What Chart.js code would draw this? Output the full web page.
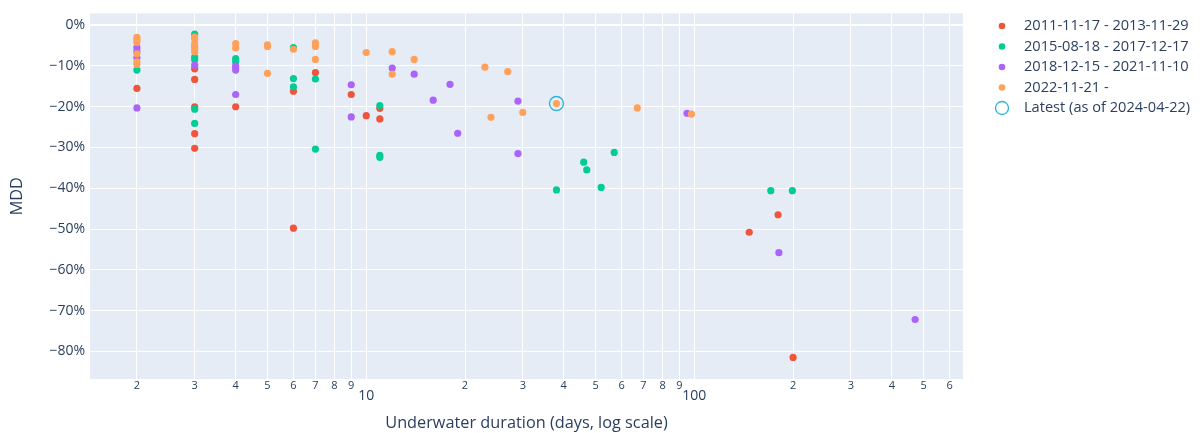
<!DOCTYPE html>
<html>
<head>
<meta charset="utf-8">
<script src="https://cdn.jsdelivr.net/npm/chart.js@4.4.1/dist/chart.umd.min.js"></script>
<style>
  html, body { margin: 0; padding: 0; background: #fff; }
  #wrap { width: 1203px; height: 433px; }
</style>
</head>
<body>
<div id="wrap"><canvas id="grafico"></canvas></div>
<script>
// periodos (legenda)
const periodos = [
  '2011-11-17 - 2013-11-29',
  '2015-08-18 - 2017-12-17',
  '2018-12-15 - 2021-11-10',
  '2022-11-21 -'
];
const rotuloUltimo = 'Latest (as of 2024-04-22)';
const cores = ['#EF553B', '#00CC96', '#AB63FA', '#FFA15A'];

// dias submerso / MDD (%) de cada periodo
const diasP1 = [2, 3, 3, 3, 3, 3, 4, 6, 6, 7, 9, 10, 11, 11, 147, 180, 200];
const mddP1 = [-15.5, -10.7, -13.3, -20.0, -26.6, -30.2, -20.0, -16.2, -49.8, -11.6, -17.0, -22.2, -20.4, -23.0, -50.8, -46.5, -81.5];

const diasP2 = [2, 3, 3, 3, 3, 3, 4, 4, 6, 6, 6, 7, 7, 11, 11, 11, 38, 46, 47, 52, 57, 171, 199];
const mddP2 = [-11.0, -2.2, -7.8, -8.5, -20.6, -24.1, -8.2, -9.0, -5.5, -13.1, -15.1, -13.2, -30.4, -19.7, -31.9, -32.4, -40.4, -33.6, -35.5, -39.8, -31.2, -40.6, -40.6];

const diasP3 = [2, 2, 2, 2, 3, 4, 4, 4, 4, 9, 9, 12, 14, 16, 18, 19, 29, 29, 95, 181, 471];
const mddP3 = [-5.5, -6.5, -8.0, -20.3, -9.8, -10.0, -10.5, -11.0, -17.0, -14.6, -22.5, -10.5, -12.0, -18.4, -14.5, -26.5, -18.6, -31.5, -21.6, -55.8, -72.2];

const diasP4 = [2, 2, 2, 2, 2, 2, 3, 3, 3, 3, 3, 3, 4, 4, 5, 5, 5, 6, 7, 7, 7, 10, 12, 12, 14, 23, 24, 27, 30, 38, 67, 98];
const mddP4 = [-3.0, -3.6, -4.2, -7.0, -9.0, -9.6, -2.9, -3.4, -4.6, -5.2, -5.8, -6.5, -4.5, -5.6, -4.8, -5.2, -11.8, -5.9, -4.3, -5.2, -8.4, -6.7, -6.5, -12.0, -8.4, -10.3, -22.6, -11.4, -21.4, -19.2, -20.3, -21.8];

const diasUltimo = [38];
const mddUltimo = [-19.2];

// ticks
const ticksX = [2, 3, 4, 5, 6, 7, 8, 9, 10, 20, 30, 40, 50, 60, 70, 80, 90, 100, 200, 300, 400, 500, 600];
const ticksY = [-80, -70, -60, -50, -40, -30, -20, -10, 0];

const corTexto = '#2a3f5f';
const fonte = '"Open Sans", "Liberation Sans", sans-serif';

function pontos(dias, mdd) {
  return dias.map((d, i) => ({ x: d, y: mdd[i] }));
}

const seriesDias = [diasP1, diasP2, diasP3, diasP4];
const seriesMdd = [mddP1, mddP2, mddP3, mddP4];

const datasets = periodos.map((p, i) => ({
  label: p,
  data: pontos(seriesDias[i], seriesMdd[i]),
  backgroundColor: cores[i],
  borderWidth: 0,
  pointRadius: 3.6,
  order: 4 - i
}));
datasets.push({
  label: rotuloUltimo,
  data: pontos(diasUltimo, mddUltimo),
  backgroundColor: 'rgba(0,0,0,0)',
  borderColor: '#2fb3d9',
  borderWidth: 1.4,
  pointRadius: 7,
  order: 0
});

const fundoPlot = {
  id: 'fundoPlot',
  beforeDraw(chart) {
    const { ctx, chartArea: a } = chart;
    ctx.save();
    ctx.fillStyle = '#E5ECF6';
    ctx.fillRect(a.left, a.top, a.right - a.left, a.bottom - a.top);
    ctx.restore();
  }
};

// legenda desenhada à direita
const legenda = {
  id: 'legenda',
  afterDraw(chart) {
    const ctx = chart.ctx;
    ctx.save();
    ctx.font = '14.6px ' + fonte;
    ctx.textBaseline = 'middle';
    ctx.fillStyle = corTexto;
    const x0 = 1002, xt = 1024, y0 = 26, passo = 20.5;
    chart.data.datasets.forEach((ds, i) => {
      const y = y0 + i * passo;
      ctx.beginPath();
      if (i < periodos.length) {
        ctx.fillStyle = cores[i];
        ctx.arc(x0, y, 3.3, 0, Math.PI * 2);
        ctx.fill();
      } else {
        ctx.strokeStyle = ds.borderColor;
        ctx.lineWidth = 1.3;
        ctx.arc(x0, y, 6.5, 0, Math.PI * 2);
        ctx.stroke();
      }
      ctx.fillStyle = corTexto;
      ctx.fillText(ds.label, xt, y);
    });
    ctx.restore();
  }
};

new Chart(document.getElementById('grafico'), {
  type: 'scatter',
  data: { datasets },
  plugins: [fundoPlot, legenda],
  options: {
    responsive: true,
    maintainAspectRatio: false,
    animation: false,
    layout: { padding: { top: 11, right: 240, left: 0, bottom: 0 } },
    plugins: {
      legend: { display: false },
      tooltip: { enabled: false }
    },
    scales: {
      x: {
        type: 'logarithmic',
        min: 1.439,
        max: 659,
        afterBuildTicks: s => { s.ticks = ticksX.map(v => ({ value: v })); },
        afterFit: s => { s.height = 54; },
        border: { display: false },
        grid: { color: '#ffffff', lineWidth: 1, drawTicks: false },
        ticks: {
          autoSkip: false,
          maxRotation: 0,
          padding: 0,
          color: corTexto,
          font: c => {
            const v = c.tick ? c.tick.value : 0;
            return (v === 10 || v === 100)
              ? { family: fonte, size: 14, lineHeight: 0.8 }
              : { family: fonte, size: 11, lineHeight: 1.2 };
          },
          callback: v => {
            if (v === 10 || v === 100) return ['', String(v)];
            return String(v).charAt(0);
          }
        },
        title: {
          display: true,
          text: 'Underwater duration (days, log scale)',
          color: corTexto,
          font: { family: fonte, size: 16.3 },
          padding: { top: 0, bottom: 0 }
        }
      },
      y: {
        min: -86.8,
        max: 2.9,
        afterBuildTicks: s => { s.ticks = ticksY.map(v => ({ value: v })); },
        afterFit: s => { s.width = 90; },
        border: { display: false },
        grid: {
          color: '#ffffff',
          lineWidth: c => (c.tick && c.tick.value === 0 ? 2 : 1),
          drawTicks: false
        },
        ticks: {
          padding: 5,
          color: corTexto,
          font: { family: fonte, size: 14 },
          callback: v => (v < 0 ? '\u2212' + Math.abs(v) : v) + '%'
        },
        title: {
          display: true,
          text: 'MDD',
          color: corTexto,
          font: { family: fonte, size: 16.3 },
          padding: { top: 8, bottom: 0 }
        }
      }
    }
  }
});
</script>
</body>
</html>
